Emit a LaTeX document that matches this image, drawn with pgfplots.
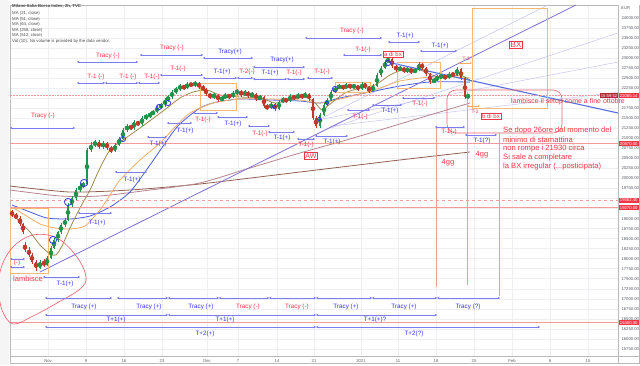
\documentclass[border=0pt]{standalone}
\usepackage{pgfplots}
\pgfplotsset{compat=1.18}
\usepackage{pgfplotstable}
\usepackage{fontspec}
\setmainfont{Liberation Sans}
\usetikzlibrary{arrows.meta}

\definecolor{cgreen}{HTML}{23924A}
\definecolor{cred}{HTML}{C0392B}
\definecolor{tvred}{HTML}{F23645}
\definecolor{tvblue}{HTML}{3535EE}
\definecolor{arrc}{HTML}{7C7CF2}
\definecolor{ma21}{HTML}{9E8A4E}
\definecolor{ma51}{HTML}{F2AE66}
\definecolor{ma64}{HTML}{4A5FE0}
\definecolor{ma256}{HTML}{B8848F}
\definecolor{ma512}{HTML}{93604F}
\definecolor{obox}{HTML}{F5B971}
\definecolor{hline}{HTML}{F59A9A}
\definecolor{gridc}{HTML}{EDEFF3}
\definecolor{axtxt}{HTML}{5A5E66}
\definecolor{trendb}{HTML}{5B6EE1}
\definecolor{trendp}{HTML}{7F70D6}
\definecolor{fanc}{HTML}{C9C6F2}

% 2h candles (x = position on the time axis, o h l c = prices)
\pgfplotstableread{
x o h l c
12 19164 19210 19050 19089
16 19089 19130 18980 19014
20 19014 19060 18820 18865
23 18865 18900 18610 18665
25 18350 18420 18170 18217
29 18217 18290 18040 18092
32 18092 18150 17870 17917
36 17917 17960 17700 17768
40 17768 17970 17740 17917
44 17917 17990 17800 17842
47 17842 18060 17810 18017
51 18017 18310 17980 18266
54 18266 18510 18230 18466
58 18466 18700 18420 18665
61 18665 18890 18620 18840
65 18840 19010 18790 18964
68 18964 19380 18930 19338
72 19338 19560 19290 19513
76 19513 19750 19470 19712
80 19712 19860 19660 19812
83 19812 19910 19760 19862
87 19862 20760 19840 20710
91 20710 20900 20660 20834
95 20834 20960 20780 20909
99 20909 20950 20730 20784
103 20784 20930 20740 20884
107 20884 20920 20700 20759
111 20759 20800 20630 20685
115 20685 20880 20650 20834
119 20834 21030 20800 20984
123 20984 21250 20950 21208
127 21208 21350 21170 21308
131 21308 21340 21200 21258
134 21258 21450 21220 21408
138 21408 21440 21300 21358
142 21358 21550 21320 21507
146 21507 21600 21460 21557
150 21557 21650 21510 21607
153 21607 21700 21570 21657
157 21657 21820 21620 21781
161 21781 21870 21740 21831
165 21831 22000 21790 21956
168 21956 22070 21910 22031
172 22031 22200 21990 22155
176 22155 22280 22110 22230
180 22230 22350 22190 22305
184 22305 22340 22200 22255
187 22255 22400 22220 22355
191 22355 22390 22280 22330
195 22330 22420 22290 22380
199 22380 22410 22230 22280
203 22280 22320 22180 22230
206 22230 22260 22060 22106
210 22106 22140 21980 22031
214 22031 22130 21990 22081
218 22081 22110 21910 21956
222 21956 22050 21920 22006
225 22006 22120 21970 22081
229 22081 22110 21990 22031
233 22031 22170 22000 22131
237 22131 22230 22090 22180
241 22180 22210 22040 22081
245 22081 22200 22050 22155
248 22155 22190 22010 22056
252 22056 22150 22020 22106
256 22106 22140 21940 21981
260 21981 22080 21950 22031
264 22031 22060 21760 21806
267 21806 21850 21700 21757
271 21757 21900 21720 21856
275 21856 21890 21680 21732
279 21732 21950 21700 21906
283 21906 22030 21870 21981
286 21981 22010 21890 21931
290 21931 22100 21900 22056
294 22056 22090 21960 22006
298 22006 22130 21970 22081
302 22081 22110 21990 22031
305 22031 22150 22000 22106
309 22106 22140 21940 21981
313 21981 22010 21460 21507
316 21507 21550 21250 21308
320 21308 21630 21270 21582
324 21582 21880 21550 21831
327 21831 22000 21800 21956
331 21956 22200 21920 22155
335 22155 22300 22120 22255
339 22255 22350 22220 22305
343 22305 22340 22210 22255
346 22255 22370 22220 22330
350 22330 22360 22240 22280
354 22280 22350 22250 22305
358 22305 22340 22190 22230
362 22230 22400 22200 22355
365 22355 22390 22240 22280
369 22280 22310 22130 22180
373 22180 22350 22150 22305
377 22305 22620 22270 22579
381 22579 22800 22540 22754
385 22754 22950 22720 22903
388 22903 23030 22870 22978
392 22978 23010 22760 22804
396 22804 22840 22660 22704
400 22704 22800 22670 22754
404 22754 22790 22630 22679
407 22679 22770 22640 22729
411 22729 22760 22610 22654
415 22654 22750 22620 22704
419 22704 22900 22670 22854
422 22854 22890 22710 22754
426 22754 22790 22560 22604
430 22604 22640 22360 22405
434 22405 22500 22370 22455
437 22455 22570 22420 22529
441 22529 22600 22490 22554
445 22554 22590 22460 22504
449 22504 22650 22470 22604
453 22604 22640 22540 22579
457 22579 22780 22550 22729
461 22729 22760 22460 22504
465 22504 22540 21990 22031
468 22031 22110 21990 22065
}\candles

\newcommand\lblfont{\fontsize{6.3}{7.5}\selectfont}
\newcommand\TvRng[3]{\draw[arrc, line width=0.55pt, {Stealth[length=2.4pt,width=2.6pt]}-{Stealth[length=2.4pt,width=2.6pt]}] (axis cs:#1,#3) -- (axis cs:#2,#3);}
\newcommand\TvB[3]{\node[text=tvblue, font=\lblfont, inner sep=0pt] at (axis cs:#1,#2) {#3};}
\newcommand\TvR[3]{\node[text=tvred, font=\lblfont, inner sep=0pt] at (axis cs:#1,#2) {#3};}
\tikzset{boxlbl/.style={draw=tvred, text=tvred, fill=white, line width=0.5pt, inner sep=1pt},
  pricebox/.style={fill=tvred, text=white, font=\fontsize{4.2}{5}\selectfont, inner sep=0.6pt, minimum width=21pt, minimum height=5pt, anchor=west}}

\begin{document}
\begin{tikzpicture}
\useasboundingbox (0,0) rectangle (640pt,365pt);
\fill[white] (0,0) rectangle (640pt,365pt);
\fill[gray!8] (0,0) rectangle (9pt,365pt);
\begin{axis}[
  at={(10pt,9pt)}, anchor=south west,
  width=608pt, height=351pt, scale only axis,
  xmin=10, xmax=618, ymin=15574, ymax=24324,
  clip=false,
  axis line style={draw=gray!55, line width=0.5pt},
  xtick={48,86,124,162,207,238,277,314,361,398,436,474,512,550,588},
  xticklabels={Nov,9,16,23,Dec,7,14,21,2021,11,18,25,Feb,8,15},
  ytick={15750,16000,16250,16500,16750,17000,17250,17500,17750,18000,18250,18500,18750,19000,19750,20000,20250,20500,20750,21000,21250,21500,21750,22250,22500,22750,23000,23250,23500,23750,24000},
  extra y ticks={19250,19500,22000}, extra y tick labels={},
  extra y tick style={grid=major},
  yticklabel pos=right,
  major tick length=0pt,
  grid=major, major grid style={draw=gridc, line width=0.5pt},
  ticklabel style={font=\fontsize{4.2}{5}\selectfont, text=axtxt},
  yticklabel style={/pgf/number format/fixed, /pgf/number format/fixed zerofill, /pgf/number format/precision=2, /pgf/number format/1000 sep={}, /pgf/number format/assume math mode=true},
  scaled y ticks=false,
]

% fan / guide lines
\addplot[fanc, line width=0.5pt, forget plot] coordinates {(318,21457) (548,24324)};
\addplot[fanc, line width=0.5pt, forget plot] coordinates {(330,21250) (618,23626)};
\addplot[fanc, line width=0.5pt, forget plot] coordinates {(318,21457) (618,22903)};
\addplot[fanc, line width=0.5pt, forget plot] coordinates {(330,21300) (618,22150)};

% moving averages
\addplot[ma512, line width=0.8pt, smooth, tension=0.4] coordinates {(10,19812) (70,19662) (130,19712) (200,19862) (300,20161) (400,20461) (470,20660)};
\addplot[ma256, line width=0.8pt, smooth, tension=0.4] coordinates {(10,19712) (60,19563) (100,19563) (150,19712) (200,19887) (250,20261) (300,20635) (350,20984) (413,21457) (470,21881)};
\addplot[ma64, line width=0.8pt, smooth, tension=0.4] coordinates {(12,19338) (30,19164) (47,19014) (70,18989) (90,19064) (110,19288) (130,19662) (150,20336) (177,21283) (200,21757) (217,21906) (240,21981) (270,21956) (300,21931) (320,21881) (340,22006) (370,22155) (400,22305) (430,22405) (470,22405)};
\addplot[ma51, line width=0.8pt, smooth, tension=0.4] coordinates {(12,19288) (25,19089) (40,18865) (55,18765) (70,18740) (85,18815) (100,19214) (110,19588) (120,19962) (140,20461) (160,20884) (175,21283) (190,21632) (213,21881) (240,21981) (270,21981) (300,21956) (320,21881) (340,21981) (360,22106) (380,22255) (400,22430) (430,22529) (460,22529) (470,22504)};
\addplot[ma21, line width=0.8pt, smooth, tension=0.4] coordinates {(12,19139) (20,18915) (30,18665) (40,18341) (50,18117) (56,18092) (62,18316) (70,18765) (80,19264) (90,19712) (100,20261) (110,20710) (123,20959) (140,21258) (155,21532) (167,21757) (180,22006) (193,22155) (207,22205) (220,22081) (240,22031) (260,22006) (275,21881) (290,21956) (305,22031) (315,21881) (322,21707) (330,21856) (345,22131) (360,22255) (375,22330) (390,22579) (405,22729) (420,22704) (435,22554) (450,22529) (460,22579) (470,22455)};

% trendlines
\addplot[trendp, line width=0.8pt] coordinates {(40,17668) (576,24324)};
\addplot[trendb, line width=1.1pt] coordinates {(387,22903) (618,21632)};

% horizontal levels
\addplot[hline, line width=1pt] coordinates {(10,20870) (618,20870)};
\addplot[hline, line width=0.6pt, dashed] coordinates {(10,19462.4) (618,19462.4)};
\addplot[hline, line width=0.8pt] coordinates {(10,19270) (618,19270)};
\addplot[hline, line width=1.1pt] coordinates {(10,16400) (618,16400)};
\addplot[hline, line width=0.5pt, densely dotted] coordinates {(10,22065) (618,22065)};

% orange boxes
\draw[obox, line width=0.6pt] (axis cs:10,19264) rectangle (axis cs:48,17643);
\draw[obox, line width=0.6pt] (axis cs:200,22380) rectangle (axis cs:236,21707);
\draw[obox, line width=0.6pt] (axis cs:335,22405) rectangle (axis cs:370,22155);
\draw[obox, line width=0.6pt] (axis cs:397,22903) rectangle (axis cs:440,22255);
\draw[obox, line width=0.9pt] (axis cs:472,24250) rectangle (axis cs:547,21757);

% candles: wicks
\addplot[cgreen, only marks, mark=none, forget plot, restrict expr to domain={\thisrow{c}-\thisrow{o}}{0:100000},
  error bars/.cd, y dir=both, y explicit, error mark=none, error bar style={color=cgreen, line width=0.45pt}]
  table[x=x, y expr={(\thisrow{h}+\thisrow{l})/2}, y error expr={(\thisrow{h}-\thisrow{l})/2}] {\candles};
\addplot[cred, only marks, mark=none, forget plot, restrict expr to domain={\thisrow{c}-\thisrow{o}}{-100000:0},
  error bars/.cd, y dir=both, y explicit, error mark=none, error bar style={color=cred, line width=0.45pt}]
  table[x=x, y expr={(\thisrow{h}+\thisrow{l})/2}, y error expr={(\thisrow{h}-\thisrow{l})/2}] {\candles};
% candles: bodies
\addplot[cgreen, only marks, mark=none, forget plot, restrict expr to domain={\thisrow{c}-\thisrow{o}}{0:100000},
  error bars/.cd, y dir=both, y explicit, error mark=none, error bar style={color=cgreen, line width=2.2pt}]
  table[x=x, y expr={(\thisrow{o}+\thisrow{c})/2}, y error expr={abs(\thisrow{c}-\thisrow{o})/2}] {\candles};
\addplot[cred, only marks, mark=none, forget plot, restrict expr to domain={\thisrow{c}-\thisrow{o}}{-100000:0},
  error bars/.cd, y dir=both, y explicit, error mark=none, error bar style={color=cred, line width=2.2pt}]
  table[x=x, y expr={(\thisrow{o}+\thisrow{c})/2}, y error expr={abs(\thisrow{c}-\thisrow{o})/2}] {\candles};

% blue circles drawn on the price
\addplot[only marks, mark=o, mark size=3.6pt, draw=tvblue, line width=0.8pt] coordinates {(53,18466) (68,19413) (84,19887)};
\addplot[only marks, mark=o, mark size=2.6pt, draw=tvblue, line width=0.8pt] coordinates {(123,20984) (159,21781) (168,21881) (335,22230) (388,22878)};
\addplot[only marks, mark=o, mark size=1.8pt, draw=tvblue, line width=0.7pt] coordinates {(274,21781) (319,21482) (327,21881)};

% red verticals and outlines
\draw[hline, line width=0.9pt] (axis cs:436,21283) -- (axis cs:436,17294);
\draw[hline, line width=0.9pt] (axis cs:467,22155) -- (axis cs:467,17344);
\draw[hline, line width=0.9pt] (axis cs:499,21134) -- (axis cs:499,17070);
\draw[tvred!80, line width=0.6pt, rounded corners=9pt] (axis cs:447,22205) rectangle (axis cs:562,21134);
\draw[tvred!80, line width=0.6pt] plot[smooth cycle, tension=0.6] coordinates {(axis cs:13,18291) (axis cs:33,18590) (axis cs:57,18516) (axis cs:77,18042) (axis cs:86,17543) (axis cs:80,17244) (axis cs:57,16895) (axis cs:33,16571) (axis cs:13,16372) (axis cs:2,16721) (axis cs:-1,17219) (axis cs:1,17768)};

% top ranges
\TvRng{77}{138}{22903} \TvR{108}{23053}{Tracy (-)}
\TvRng{140}{203}{23078} \TvR{172}{23252}{Tracy (-)}
\TvRng{77}{105}{22380} \TvR{96}{22529}{T-1 (-)}
\TvRng{105}{138}{22380} \TvR{128}{22529}{T-1 (-)}
\TvRng{138}{160}{22380} \TvR{152}{22529}{T-1(-)}
\TvRng{160}{203}{22579} \TvR{178}{22729}{T-1(-)}
\TvRng{203}{253}{23003} \TvB{230}{23153}{Tracy(+)}
\TvRng{253}{305}{22779} \TvB{282}{22953}{Tracy(+)}
\TvRng{203}{237}{22504} \TvB{222}{22654}{T-1(+)}
\TvRng{237}{253}{22504} \TvR{247}{22654}{T-2(-)}
\TvRng{253}{287}{22479} \TvB{270}{22629}{T-1(+)}
\TvRng{287}{305}{22479} \TvR{294}{22629}{T-1(-)}
\TvRng{307}{333}{22504} \TvR{322}{22654}{T-1(-)}
\TvRng{305}{382}{23502} \TvR{352}{23676}{Tracy (-)}
\TvRng{343}{382}{23078} \TvR{363}{23203}{T-1(-)}
\TvRng{388}{420}{23402} \TvB{405}{23551}{T-1(+)}
\TvRng{420}{457}{23178} \TvB{440}{23302}{T-1(+)}

% ranges under the price
\TvRng{10}{75}{21258} \TvR{43}{21557}{Tracy (-)}
\TvRng{78}{112}{19139} \TvB{97}{18890}{T-1(+)}
\TvRng{115}{147}{20161} \TvB{132}{19962}{T-1(+)}
\TvRng{147}{167}{21034} \TvB{158}{20859}{T-1(+)}
\TvRng{167}{192}{21383} \TvB{185}{21183}{T-1(+)}
\TvRng{193}{218}{21632} \TvR{203}{21457}{T-1(-)}
\TvRng{217}{248}{21532} \TvB{233}{21358}{T-1(+)}
\TvRng{248}{270}{21308} \TvR{260}{21108}{T-1(-)}
\TvRng{268}{295}{21158} \TvB{282}{21009}{T-1(+)}
\TvRng{297}{315}{20984} \TvR{306}{20834}{T-1(-)}
\TvRng{315}{348}{21059} \TvB{332}{20909}{T-1(+)}
\TvRng{347}{370}{21707} \TvR{360}{21532}{T-1(-)}
\TvRng{372}{402}{21831} \TvB{390}{21682}{T-1(+)}
\TvRng{402}{435}{22006} \TvR{420}{21856}{T-1(-)}
\TvRng{435}{465}{21283} \TvR{449}{21158}{T-1(-)}
\TvRng{465}{497}{21084} \TvB{482}{20934}{T-1(?)}
\TvRng{43}{80}{17543} \TvB{65}{17369}{T-1(+)}
\TvRng{10}{25}{17992} \TvRng{10}{25}{17793} \TvR{17}{17892}{(-)}

% bottom ranges
\TvRng{45}{112}{17020} \TvB{84}{16795}{Tracy (+)}
\TvRng{117}{168}{17020} \TvB{149}{16795}{Tracy (+)}
\TvRng{168}{219}{17020} \TvB{201}{16795}{Tracy (+)}
\TvRng{219}{269}{17020} \TvR{248}{16795}{Tracy (-)}
\TvRng{269}{316}{17020} \TvR{297}{16795}{Tracy (-)}
\TvRng{316}{372}{17020} \TvB{346}{16795}{Tracy (+)}
\TvRng{372}{437}{17020} \TvB{404}{16795}{Tracy (+)}
\TvRng{437}{500}{17020} \TvB{468}{16795}{Tracy (?)}
\TvRng{45}{168}{16596} \TvB{116}{16471}{T+1(+)}
\TvRng{168}{316}{16596} \TvB{225}{16471}{T+1(+)}
\TvRng{316}{437}{16596} \TvB{375}{16471}{T+1(+)?}
\TvRng{45}{316}{16296} \TvB{205}{16121}{T+2(+)}
\TvRng{316}{540}{16296} \TvB{414}{16121}{T+2(?)}

% T-2 marks
\draw[obox!90!red, line width=0.6pt, {Stealth[length=2pt]}-{Stealth[length=2pt]}] (axis cs:458,22878) -- (axis cs:472,22878);
\node[text=tvred, font=\fontsize{4.8}{5}\selectfont, inner sep=0pt] at (axis cs:466,22990) {T-2};
\draw[obox!90!red, line width=0.6pt, {Stealth[length=2pt]}-{Stealth[length=2pt]}] (axis cs:467,21806) -- (axis cs:480,21806);
\node[text=tvred, font=\fontsize{4.8}{5}\selectfont, inner sep=0pt] at (axis cs:475,21667) {T-2};

% boxed labels
\node[boxlbl, font=\fontsize{6}{7}\selectfont] at (axis cs:393,23090) {a di bx};
\node[boxlbl, font=\fontsize{8}{9}\selectfont] at (axis cs:516,23327) {BX};
\node[boxlbl, font=\fontsize{7}{8}\selectfont] at (axis cs:311,20559) {AW};
\node[boxlbl, font=\fontsize{6}{7}\selectfont] at (axis cs:491,21557) {b di bx};

% notes
\node[text=tvred, font=\fontsize{7.5}{9}\selectfont, inner sep=0pt] at (axis cs:28,17493) {lambisce};
\node[text=tvred, font=\fontsize{7}{8}\selectfont, inner sep=0pt, anchor=west] at (axis cs:511,21910) {lambisce il setup come a fine ottobre};
\node[text=tvred, font=\fontsize{7.6}{9}\selectfont, inner sep=0pt, anchor=west] at (axis cs:503,21183) {Se dopo 26ore dal momento del};
\node[text=tvred, font=\fontsize{7.6}{9}\selectfont, inner sep=0pt, anchor=west] at (axis cs:503,20959) {minimo di stamattina};
\node[text=tvred, font=\fontsize{7.6}{9}\selectfont, inner sep=0pt, anchor=west] at (axis cs:503,20735) {non rompe i 21930 circa};
\node[text=tvred, font=\fontsize{7.6}{9}\selectfont, inner sep=0pt, anchor=west] at (axis cs:503,20510) {Si sale a completare};
\node[text=tvred, font=\fontsize{7.6}{9}\selectfont, inner sep=0pt, anchor=west] at (axis cs:503,20286) {la BX irregular (...posticipata)};
\node[text=tvred, font=\fontsize{7.5}{9}\selectfont, inner sep=0pt] at (axis cs:448,20385) {4gg};
\node[text=tvred, font=\fontsize{7.5}{9}\selectfont, inner sep=0pt] at (axis cs:482,20584) {4gg};

% price scale labels
\node[pricebox] at (axis cs:618,22065) {22065.14};
\node[fill=tvred!75!black, text=white, font=\fontsize{4.2}{5}\selectfont, inner sep=0.6pt, minimum height=5pt, anchor=east] at (axis cs:618,22065) {15:59:52};
\node[pricebox] at (axis cs:618,20870) {20870.00};
\node[pricebox] at (axis cs:618,19462.4) {19462.40};
\node[pricebox] at (axis cs:618,19270) {19270.00};
\node[pricebox] at (axis cs:618,16400) {16400.00};
\end{axis}

% chart header / legend
\begin{scope}[every node/.style={anchor=west, inner sep=0pt, text=black!70, font=\fontsize{4.3}{5}\selectfont}]
\node[font=\fontsize{4.3}{5}\selectfont\bfseries] at (12pt,358.3pt) {Milano Italia Borsa Index, 2h, TVC};
\node at (12pt,351.7pt) {MA (21, close)};
\node at (12pt,346pt) {MA (51, close)};
\node at (12pt,340.7pt) {MA (64, close)};
\node at (12pt,335pt) {MA (256, close)};
\node at (12pt,329.7pt) {MA (512, close)};
\node at (12pt,323.3pt) {Vol (10): No volume is provided by the data vendor.};
\end{scope}
\node[anchor=west, inner sep=0pt, text=axtxt, font=\fontsize{4.2}{5}\selectfont] at (621pt,357pt) {EUR};
\draw[gray!55, line width=0.5pt] (10pt,2pt) rectangle (639.7pt,9pt);
\draw[gray!55, line width=0.5pt] (618pt,2pt) -- (618pt,360pt);
\draw[gray!55, line width=0.5pt] (639.7pt,2pt) -- (639.7pt,360pt);
\end{tikzpicture}
\end{document}
